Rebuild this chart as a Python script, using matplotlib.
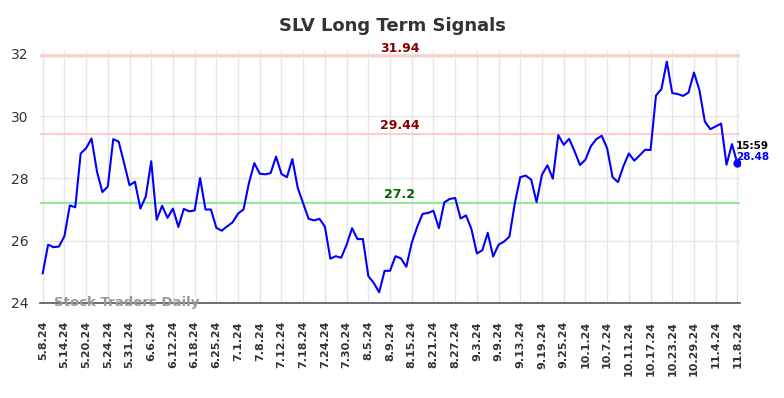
import numpy as np
import matplotlib
matplotlib.use('Agg')
import matplotlib.pyplot as plt

# closing prices, one per trading day (5.8.24 .. 11.8.24)
prices = [
    24.95, 25.87, 25.79, 25.81, 26.14, 27.13, 27.07, 28.80, 28.97, 29.28,
    28.22, 27.56, 27.74, 29.26, 29.18, 28.49, 27.78, 27.89, 27.03, 27.42,
    28.55, 26.67, 27.12, 26.73, 27.03, 26.44, 27.02, 26.94, 26.97, 28.01,
    27.00, 27.00, 26.41, 26.32, 26.46, 26.59, 26.87, 27.00, 27.85, 28.49,
    28.15, 28.13, 28.17, 28.70, 28.14, 28.04, 28.62, 27.69, 27.19, 26.70,
    26.65, 26.70, 26.45, 25.42, 25.50, 25.45, 25.87, 26.40, 26.05, 26.05,
    24.86, 24.64, 24.34, 25.03, 25.03, 25.50, 25.43, 25.16, 25.93, 26.44,
    26.86, 26.89, 26.96, 26.40, 27.23, 27.34, 27.37, 26.71, 26.81, 26.37,
    25.59, 25.69, 26.25, 25.49, 25.87, 25.97, 26.13, 27.21, 28.04, 28.09,
    27.96, 27.24, 28.12, 28.42, 27.99, 29.39, 29.08, 29.27, 28.87, 28.43,
    28.60, 29.03, 29.26, 29.37, 28.97, 28.04, 27.88, 28.39, 28.80, 28.57,
    28.74, 28.92, 28.91, 30.66, 30.87, 31.75, 30.74, 30.71, 30.65, 30.76,
    31.40, 30.84, 29.83, 29.58, 29.67, 29.76, 28.44, 29.10, 28.48,
]

tick_labels = ['5.8.24', '5.14.24', '5.20.24', '5.24.24', '5.31.24', '6.6.24',
               '6.12.24', '6.18.24', '6.25.24', '7.1.24', '7.8.24', '7.12.24',
               '7.18.24', '7.24.24', '7.30.24', '8.5.24', '8.9.24', '8.15.24',
               '8.21.24', '8.27.24', '9.3.24', '9.9.24', '9.13.24', '9.19.24',
               '9.25.24', '10.1.24', '10.7.24', '10.11.24', '10.17.24',
               '10.23.24', '10.29.24', '11.4.24', '11.8.24']

upper2 = 31.94
upper1 = 29.44
lower = 27.2
last_time = '15:59'

x = np.arange(len(prices))

fig = plt.figure(figsize=(7.84, 3.98), dpi=100)
ax = fig.add_axes([0.051, 0.239, 0.893, 0.635])

ax.axhspan(31.88, 32.0, color='#ffeaea', lw=0, zorder=0)
ax.axhline(upper2, color='#ffcccc', lw=1.5, zorder=1)
ax.axhline(upper1, color='#ffcccc', lw=1.5, zorder=1)
ax.axhline(lower, color='#99e699', lw=1.5, zorder=1)

ax.plot(x, prices, color='blue', lw=1.5, zorder=3)
ax.plot(x[-1], prices[-1], 'o', color='blue', ms=5, zorder=4)

mid = 65.8
ax.text(mid, upper2 + 0.04, f'{upper2:.2f}', color='#8b0000', fontsize=9,
        fontweight='bold', ha='center', va='bottom')
ax.text(mid, upper1 + 0.06, f'{upper1:.2f}', color='#8b0000', fontsize=9,
        fontweight='bold', ha='center', va='bottom')
ax.text(mid, lower + 0.06, f'{lower}', color='#006400', fontsize=9,
        fontweight='bold', ha='center', va='bottom')

ax.text(x[-1] - 0.2, prices[-1] + 0.55, last_time, color='black', fontsize=7.5,
        fontweight='bold', ha='left', va='center')
ax.text(x[-1] - 0.2, prices[-1] + 0.2, f'{prices[-1]:.2f}', color='blue',
        fontsize=7.5, fontweight='bold', ha='left', va='center')

ax.text(2, 24.0, 'Stock Traders Daily', color='#999999', fontsize=9.5,
        fontweight='bold', ha='left', va='center', zorder=5)

ax.set_xlim(-0.5, len(prices) - 0.5)
ax.set_ylim(24, 32.12)
ax.set_xticks(x[::4])
ax.set_xticklabels(tick_labels, rotation=90, fontsize=8, fontweight='bold',
                   color='#333333')
ax.set_yticks([24, 26, 28, 30, 32])
ax.tick_params(axis='y', labelsize=10, colors='#333333', length=0, pad=8)
ax.tick_params(axis='x', length=0, pad=13)
ax.grid(True, color='#e6e6e6', lw=1, zorder=0)
ax.set_axisbelow(True)
for s in ['left', 'right', 'top']:
    ax.spines[s].set_visible(False)
ax.spines['bottom'].set_color('#555555')
ax.spines['bottom'].set_linewidth(1.2)

fig.suptitle('SLV Long Term Signals', x=0.5, y=0.958, fontsize=13,
             fontweight='bold', color='#333333')

fig.savefig('out.png', dpi=100)
